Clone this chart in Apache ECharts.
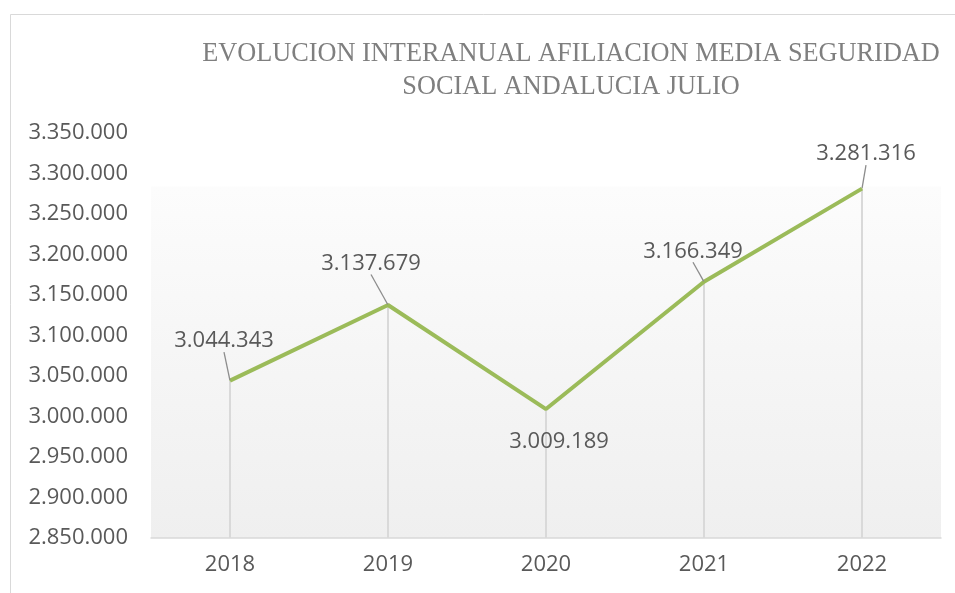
<!DOCTYPE html>
<html>
<head>
<meta charset="utf-8">
<script src="https://cdn.jsdelivr.net/npm/echarts@6/dist/echarts.min.js"></script>
<style>
html,body{margin:0;padding:0;background:#fff;}
#chart{width:955px;height:593px;}
</style>
</head>
<body>
<div id="chart"></div>
<script>
const titleLines = ['EVOLUCION INTERANUAL AFILIACION MEDIA SEGURIDAD', 'SOCIAL ANDALUCIA JULIO'];
const years = ['2018', '2019', '2020', '2021', '2022'];
const afiliados = [3044343, 3137679, 3009189, 3166349, 3281316];
const yMin = 2850000;
const yMax = 3350000;
const yStep = 50000;
// label displacement (layout only)
const labelPos = ['top', 'top', 'bottom', 'top', 'top'];
const labelShift = [[-6, -23], [-17, -25], [13, 16], [-11, -14], [4, -18]];
const leaderShown = [true, true, false, true, true];

function fmt(v) {
  return String(Math.round(v)).replace(/\B(?=(\d{3})+(?!\d))/g, '.');
}

const chart = echarts.init(document.getElementById('chart'), null, {renderer: 'canvas'});
const textColor = '#595959';
const numFont = 'Open Sans';

chart.setOption({
  animation: false,
  backgroundColor: '#ffffff',
  title: {
    text: titleLines.join('\n'),
    left: 566,
    textAlign: 'center',
    top: 33,
    textStyle: {
      fontFamily: 'Liberation Serif',
      fontSize: 26.3,
      fontWeight: 'normal',
      color: '#7f7f7f',
      lineHeight: 33
    }
  },
  graphic: [{
    type: 'rect',
    silent: true,
    shape: {x: 10.5, y: 14.5, width: 1000, height: 700},
    style: {fill: 'none', stroke: '#d9d9d9', lineWidth: 1}
  }],
  grid: {
    left: 151, right: 14, top: 133, bottom: 55,
    show: true,
    borderWidth: 0,
    backgroundColor: {
      type: 'linear', x: 0, y: 0, x2: 0, y2: 1,
      colorStops: [
        {offset: 0, color: '#ffffff'},
        {offset: 0.13, color: '#ffffff'},
        {offset: 0.135, color: '#fcfcfc'},
        {offset: 1, color: '#efefef'}
      ]
    }
  },
  xAxis: {
    type: 'category',
    data: years,
    boundaryGap: true,
    axisLine: {show: true, lineStyle: {color: '#d9d9d9', width: 1.5}},
    axisTick: {show: false},
    splitLine: {show: false},
    axisLabel: {color: textColor, fontFamily: numFont, fontSize: 22, margin: 16}
  },
  yAxis: {
    type: 'value',
    min: yMin,
    max: yMax,
    interval: yStep,
    axisLine: {show: false},
    axisTick: {show: false},
    splitLine: {show: false},
    axisLabel: {
      color: textColor, fontFamily: numFont, fontSize: 22, margin: 23,
      formatter: v => fmt(v)
    }
  },
  series: [
    {
      type: 'bar',
      data: afiliados,
      barWidth: 2,
      silent: true,
      z: 1,
      itemStyle: {color: '#d9d9d9'}
    },
    {
      type: 'line',
      data: afiliados.map((v, i) => ({
        value: v,
        label: {position: labelPos[i]},
        labelLine: {show: leaderShown[i]}
      })),
      z: 3,
      symbol: 'circle',
      symbolSize: 1,
      showSymbol: true,
      lineStyle: {color: '#9bbb59', width: 4},
      itemStyle: {color: '#9bbb59'},
      label: {
        show: true,
        color: textColor,
        fontFamily: numFont,
        fontSize: 22,
        distance: 5,
        formatter: p => fmt(p.value)
      },
      labelLine: {
        show: true,
        lineStyle: {color: '#8c8c8c', width: 1.3}
      },
      labelLayout: p => ({dx: labelShift[p.dataIndex][0], dy: labelShift[p.dataIndex][1]})
    }
  ]
});
</script>
</body>
</html>
